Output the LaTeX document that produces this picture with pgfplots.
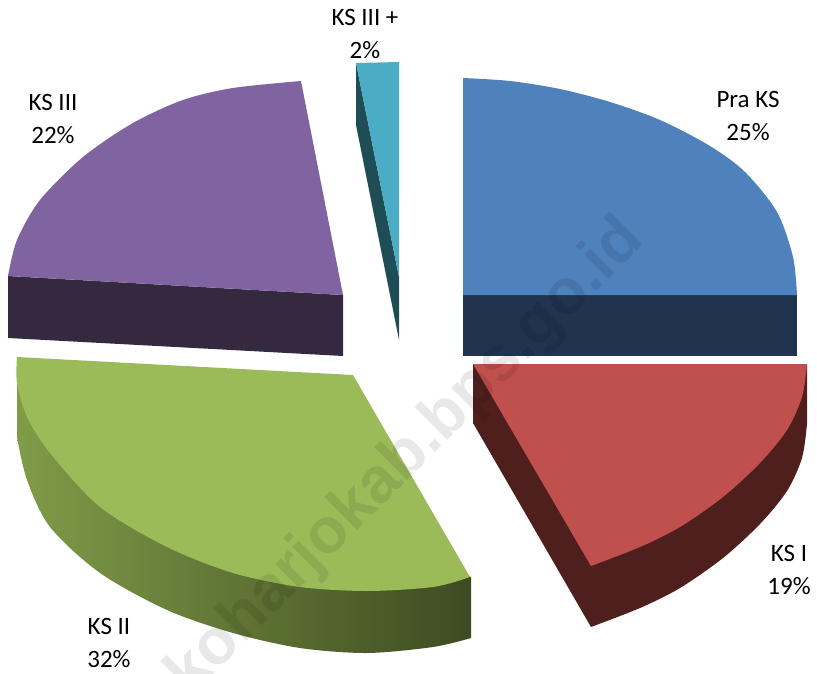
\documentclass[border=0pt]{standalone}
\usepackage{pgfplots}
\pgfplotsset{compat=1.18}
\usepackage{fontspec}
\setmainfont{Carlito}
\newfontfamily\wmfont{Liberation Sans}
\definecolor{blueT}{HTML}{4F81BD}
\definecolor{blueS}{HTML}{203450}
\definecolor{redT}{HTML}{C0504D}
\definecolor{redS}{HTML}{4F1F1E}
\definecolor{greenT}{HTML}{9BBB59}
\definecolor{greenL}{HTML}{7F9C48}
\definecolor{greenM}{HTML}{607A38}
\definecolor{greenR}{HTML}{3E4B21}
\definecolor{purpT}{HTML}{8064A2}
\definecolor{purpS}{HTML}{352940}
\definecolor{cyanT}{HTML}{4BACC6}
\definecolor{cyanS}{HTML}{1E4D56}
\tikzset{lab/.style={font=\fontsize{25}{32.5}\selectfont, align=center, text=black, inner sep=0pt}}
\begin{document}
\begin{tikzpicture}
\begin{axis}[
  scale only axis, width=817pt, height=674pt,
  xmin=0, xmax=817, ymin=0, ymax=674, y dir=reverse,
  hide axis, clip=false,
]
% Pra KS 25%
\addplot[fill=blueS, draw=none] coordinates {(463,295)(797,295)(797,356)(463,356)} -- cycle;
\addplot[fill=blueT, draw=none, smooth] coordinates {(463,78)(510,81)(560,89)(610,102)(660,120)(710,146)(745,172)(777,212)(793,257)(797,295)} -- (axis cs:463,295) -- cycle;
% KS I 19%
\addplot[fill=redS, draw=none, smooth] coordinates {(591,627)(640,608)(680,588)(723,558)(760,524)(787,491)(802,458)(807,424)} -- (axis cs:807,364) -- (axis cs:473,364) -- (axis cs:473,423) -- cycle;
\addplot[fill=redT, draw=none, smooth] coordinates {(807,364)(802,397)(787,430)(760,463)(723,497)(680,527)(640,547)(591,566)} -- (axis cs:473,364) -- cycle;
% KS II 32%
\addplot[left color=greenL, middle color=greenM, right color=greenR, draw=none, smooth] coordinates {(17,437)(27,480)(50,527)(100,573)(167,610)(233,633)(300,648)(367,653)(433,647)(471,638)} -- (axis cs:471,577) -- (axis cs:17,357) -- cycle;
\addplot[fill=greenT, draw=none, smooth] coordinates {(470,577)(433,587)(367,591)(300,587)(233,573)(167,547)(100,507)(50,453)(27,417)(17,383)(17,357)} -- (axis cs:353,375) -- cycle;
% KS III 22%
\addplot[fill=purpS, draw=none] coordinates {(8,276)(8,338)(343,356)(343,295)} -- cycle;
\addplot[fill=purpT, draw=none, smooth] coordinates {(301,81)(233,88)(183,100)(133,123)(83,157)(40,200)(17,240)(8,276)} -- (axis cs:343,295) -- cycle;
% KS III + 2%
\addplot[fill=cyanS, draw=none] coordinates {(356,63)(356,125)(399,340)(399,277)} -- cycle;
\addplot[fill=cyanT, draw=none] coordinates {(356,63)(399,62)(399,277)} -- cycle;
% labels
\node[lab] at (axis cs:748,116) {Pra KS\\25\%};
\node[lab] at (axis cs:789,570) {KS I\\19\%};
\node[lab] at (axis cs:109,643) {KS II\\32\%};
\node[lab] at (axis cs:53,119) {KS III\\22\%};
\node[lab] at (axis cs:365,34) {KS III +\\2\%};
% watermark
\begin{scope}
\clip (axis cs:0,0) rectangle (axis cs:817,674);
\node[rotate=45, anchor=base east, inner sep=0pt, text=black, text opacity=0.09, font=\wmfont\bfseries\fontsize{64}{64}\selectfont] at (axis cs:646,242) {koharjokab.bps.go.id};
\end{scope}
\end{axis}
\pgfresetboundingbox
\path[use as bounding box] (0,0) rectangle (817pt,674pt);
\end{tikzpicture}
\end{document}
